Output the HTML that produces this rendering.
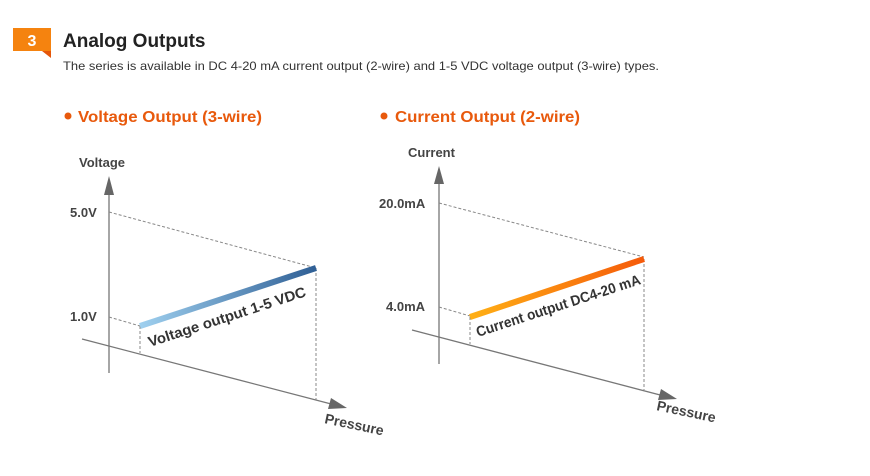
<!DOCTYPE html>
<html><head><meta charset="utf-8"><style>
body{margin:0;width:870px;height:471px;background:#fff;overflow:hidden;font-family:"Liberation Sans",sans-serif}
</style></head><body>
<svg width="870" height="471" viewBox="0 0 870 471" xmlns="http://www.w3.org/2000/svg" font-family="Liberation Sans, sans-serif">
<defs>
<linearGradient id="gb" x1="140" y1="0" x2="316" y2="0" gradientUnits="userSpaceOnUse"><stop offset="0" stop-color="#9fd0ef"/><stop offset="1" stop-color="#2f5f95"/></linearGradient>
<linearGradient id="go" x1="470" y1="0" x2="644" y2="0" gradientUnits="userSpaceOnUse"><stop offset="0" stop-color="#ffb015"/><stop offset="1" stop-color="#f55a0a"/></linearGradient>
</defs>
<rect x="13" y="28" width="38" height="23" fill="#f5830f"/>
<polygon points="42,51 51,51 51,58" fill="#e5560a"/>
<text x="32" y="46" fill="#fff" font-size="16" font-weight="bold" text-anchor="middle">3</text>
<text x="63" y="47" font-size="19" font-weight="bold" fill="#222">Analog Outputs</text>
<text x="63" y="70" font-size="12" fill="#333" textLength="596" lengthAdjust="spacingAndGlyphs">The series is available in DC 4-20 mA current output (2-wire) and 1-5 VDC voltage output (3-wire) types.</text>
<circle cx="68" cy="116" r="3.5" fill="#e8590c"/>
<text x="78" y="122" font-size="16" font-weight="bold" fill="#e8590c" textLength="184" lengthAdjust="spacingAndGlyphs">Voltage Output (3-wire)</text>
<circle cx="384" cy="116" r="3.5" fill="#e8590c"/>
<text x="395" y="122" font-size="16" font-weight="bold" fill="#e8590c" textLength="185" lengthAdjust="spacingAndGlyphs">Current Output (2-wire)</text>
<g font-size="13" font-weight="bold" fill="#444">
<text x="79" y="167">Voltage</text>
<text x="70" y="217">5.0V</text>
<text x="70" y="321">1.0V</text>
<text x="408" y="157">Current</text>
<text x="379" y="208">20.0mA</text>
<text x="386" y="311">4.0mA</text>
<text transform="translate(324,423) rotate(12)" font-size="14">Pressure</text>
<text transform="translate(656,410) rotate(12)" font-size="14">Pressure</text>
</g>
<g stroke="#777" stroke-width="1.3" fill="none">
<line x1="109" y1="192" x2="109" y2="373"/>
<line x1="82" y1="339" x2="335" y2="405"/>
<line x1="439" y1="181" x2="439" y2="364"/>
<line x1="412" y1="330" x2="664" y2="396"/>
</g>
<g fill="#666">
<polygon points="109,176 104,195 114,195"/>
<polygon points="347,408 328,409 331,398"/>
<polygon points="439,166 434,184 444,184"/>
<polygon points="677,399 658,400 661,389"/>
</g>
<g stroke="#888" stroke-width="1" stroke-dasharray="3,2" fill="none">
<line x1="109" y1="212" x2="316" y2="268"/>
<line x1="109" y1="317" x2="140" y2="326"/>
<line x1="140" y1="326" x2="140" y2="353"/>
<line x1="316" y1="268" x2="316" y2="400"/>
<line x1="439" y1="203" x2="644" y2="257"/>
<line x1="439" y1="307" x2="470" y2="316"/>
<line x1="470" y1="317" x2="470" y2="344"/>
<line x1="644" y1="259" x2="644" y2="390"/>
</g>
<line x1="140" y1="326" x2="316" y2="268" stroke="url(#gb)" stroke-width="6"/>
<line x1="470" y1="317" x2="644" y2="259" stroke="url(#go)" stroke-width="6"/>
<g font-size="14.5" font-weight="bold" fill="#333">
<text transform="translate(150,347) rotate(-18)" textLength="165" lengthAdjust="spacingAndGlyphs">Voltage output 1-5 VDC</text>
<text transform="translate(478,337) rotate(-18)" textLength="172" lengthAdjust="spacingAndGlyphs">Current output DC4-20 mA</text>
</g>
</svg>
</body></html>
